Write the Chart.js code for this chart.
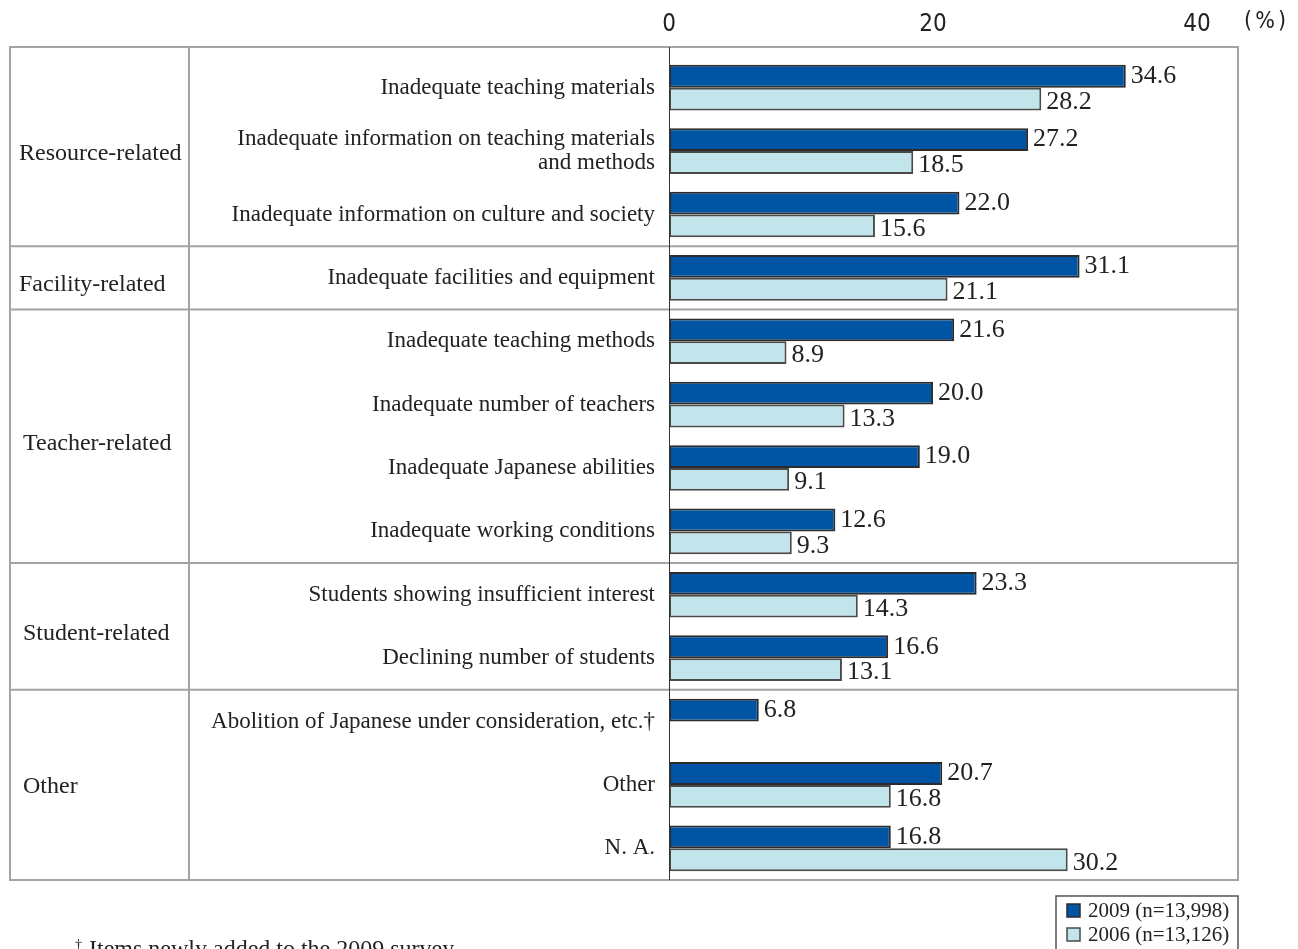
<!DOCTYPE html>
<html>
<head>
<meta charset="utf-8">
<title>Problems in Japanese-language education</title>
<script src="https://cdn.jsdelivr.net/npm/chart.js@4/dist/chart.umd.min.js"></script>
<style>
  html, body { margin: 0; padding: 0; background: #fff; }
  canvas { display: block; }
</style>
</head>
<body>
<canvas id="problemsChart" width="1298" height="949"></canvas>
<script>
// Items (y axis), grouped by category
var items = [
    'Inadequate teaching materials',
    ['Inadequate information on teaching materials', 'and methods'],
    'Inadequate information on culture and society',
    'Inadequate facilities and equipment',
    'Inadequate teaching methods',
    'Inadequate number of teachers',
    'Inadequate Japanese abilities',
    'Inadequate working conditions',
    'Students showing insufficient interest',
    'Declining number of students',
    'Abolition of Japanese under consideration, etc.\u2020',
    'Other',
    'N. A.'
];
var groupNames = ['Resource-related', 'Facility-related', 'Teacher-related', 'Student-related', 'Other'];
var groupSizes = [3, 1, 4, 2, 3];

var values2009 = [34.6, 27.2, 22.0, 31.1, 21.6, 20.0, 19.0, 12.6, 23.3, 16.6, 6.8, 20.7, 16.8];
var values2006 = [28.2, 18.5, 15.6, 21.1, 8.9, 13.3, 9.1, 9.3, 14.3, 13.1, null, 16.8, 30.2];

var xTicks = [0, 20, 40];

var SERIF = '"Liberation Serif", "DejaVu Serif", serif';
var TICK_FONT = '"DejaVu Sans Condensed", "Liberation Sans Narrow", "Noto Sans CJK JP", sans-serif';
var TABLE_TOP = 47;

// Category boxes, group names, value labels, unit, legend and footnote
var tablePlugin = {
    id: 'tablePlugin',
    afterDraw: function (chart) {
        var ctx = chart.ctx;
        var area = chart.chartArea;
        var y = chart.scales.y;
        var left = 10, mid = 189;

        ctx.save();
        ctx.strokeStyle = '#a3a3a3';
        ctx.lineWidth = 2;
        ctx.strokeRect(left, TABLE_TOP, area.right - left, area.bottom - TABLE_TOP);
        ctx.beginPath();
        ctx.moveTo(mid, TABLE_TOP);
        ctx.lineTo(mid, area.bottom);
        ctx.stroke();

        // group separators and names
        var start = 0;
        ctx.font = '24px ' + SERIF;
        ctx.textBaseline = 'middle';
        ctx.textAlign = 'left';
        groupSizes.forEach(function (size, g) {
            var end = start + size - 1;
            var top = start === 0 ? TABLE_TOP : (y.getPixelForValue(start - 1) + y.getPixelForValue(start)) / 2;
            var bottom = end === items.length - 1 ? area.bottom : (y.getPixelForValue(end) + y.getPixelForValue(end + 1)) / 2;
            if (end < items.length - 1) {
                ctx.strokeStyle = '#a3a3a3';
                ctx.beginPath();
                ctx.moveTo(left, bottom);
                ctx.lineTo(area.right, bottom);
                ctx.stroke();
            }
            ctx.fillStyle = '#222';
            ctx.fillText(groupNames[g], g < 2 ? 19 : 23, (top + bottom) / 2 + (end === items.length - 1 ? 2 : 7));
            start += size;
        });

        // zero axis line
        ctx.strokeStyle = '#333';
        ctx.lineWidth = 1;
        ctx.beginPath();
        ctx.moveTo(area.left + 0.5, TABLE_TOP);
        ctx.lineTo(area.left + 0.5, area.bottom);
        ctx.stroke();

        // unit label
        ctx.fillStyle = '#222';
        ctx.font = '23px ' + TICK_FONT;
        ctx.textAlign = 'center';
        ctx.fillText('(', area.right + 10, 22);
        ctx.fillText('%', area.right + 27, 22);
        ctx.fillText(')', area.right + 44, 22);

        // legend
        var lx = 1056, ly = 896;
        ctx.strokeStyle = '#555';
        ctx.lineWidth = 1.5;
        ctx.strokeRect(lx, ly, area.right - lx, 60);
        ctx.font = '21px ' + SERIF;
        ctx.textAlign = 'left';
        chart.data.datasets.forEach(function (ds, i) {
            var cy = ly + 14 + i * 24;
            ctx.fillStyle = ds.backgroundColor;
            ctx.fillRect(lx + 11, cy - 6, 13, 13);
            ctx.strokeStyle = ds.borderColor;
            ctx.lineWidth = 1.5;
            ctx.strokeRect(lx + 11, cy - 6, 13, 13);
            ctx.fillStyle = '#222';
            ctx.fillText(ds.label, lx + 32, cy + 1);
        });

        // footnote
        ctx.font = '14px ' + SERIF;
        ctx.fillText('\u2020', 75, 945);
        ctx.font = '24px ' + SERIF;
        ctx.textBaseline = 'alphabetic';
        ctx.fillText('Items newly added to the 2009 survey', 89, 956);
        ctx.restore();
    },
    afterDatasetsDraw: function (chart) {
        var ctx = chart.ctx;
        ctx.save();
        ctx.fillStyle = '#222';
        ctx.font = '26px ' + SERIF;
        ctx.textAlign = 'left';
        ctx.textBaseline = 'middle';
        chart.data.datasets.forEach(function (ds, i) {
            chart.getDatasetMeta(i).data.forEach(function (bar, j) {
                var v = ds.data[j];
                if (v === null) return;
                ctx.fillText(v.toFixed(1), bar.x + 5, bar.y + (i === 1 ? 3 : 0));
            });
        });
        ctx.restore();
    }
};

var ctx = document.getElementById('problemsChart').getContext('2d');
var problemsChart = new Chart(ctx, {
    type: 'bar',
    data: {
        labels: items,
        datasets: [{
            label: '2009 (n=13,998)',
            data: values2009,
            backgroundColor: '#0054a4',
            borderColor: '#2b2b2b',
            borderWidth: 2,
            borderSkipped: false
        }, {
            label: '2006 (n=13,126)',
            data: values2006,
            backgroundColor: '#c1e5ea',
            borderColor: '#4a4a4a',
            borderWidth: 2,
            borderSkipped: false
        }]
    },
    options: {
        indexAxis: 'y',
        responsive: false,
        animation: false,
        layout: { padding: { left: 0, right: 60, top: 0, bottom: 69 } },
        datasets: {
            bar: { categoryPercentage: 0.72, barPercentage: 1.0 }
        },
        scales: {
            x: {
                position: 'top',
                min: 0,
                max: 43.1,
                afterFit: function (scale) { scale.height = 56; },
                afterBuildTicks: function (scale) {
                    scale.ticks = xTicks.map(function (v) { return { value: v }; });
                },
                grid: { display: false, drawTicks: false },
                border: { display: false },
                ticks: {
                    padding: 17,
                    color: '#222',
                    font: { family: TICK_FONT, size: 24 }
                }
            },
            y: {
                afterFit: function (scale) { scale.width = 669; },
                grid: { display: false, drawTicks: false },
                border: { display: false },
                ticks: {
                    autoSkip: false,
                    padding: 14,
                    color: '#222',
                    font: { family: SERIF, size: 23, lineHeight: 1.05 }
                }
            }
        },
        plugins: {
            legend: { display: false },
            tooltip: { enabled: false }
        }
    },
    plugins: [tablePlugin]
});
</script>
</body>
</html>
